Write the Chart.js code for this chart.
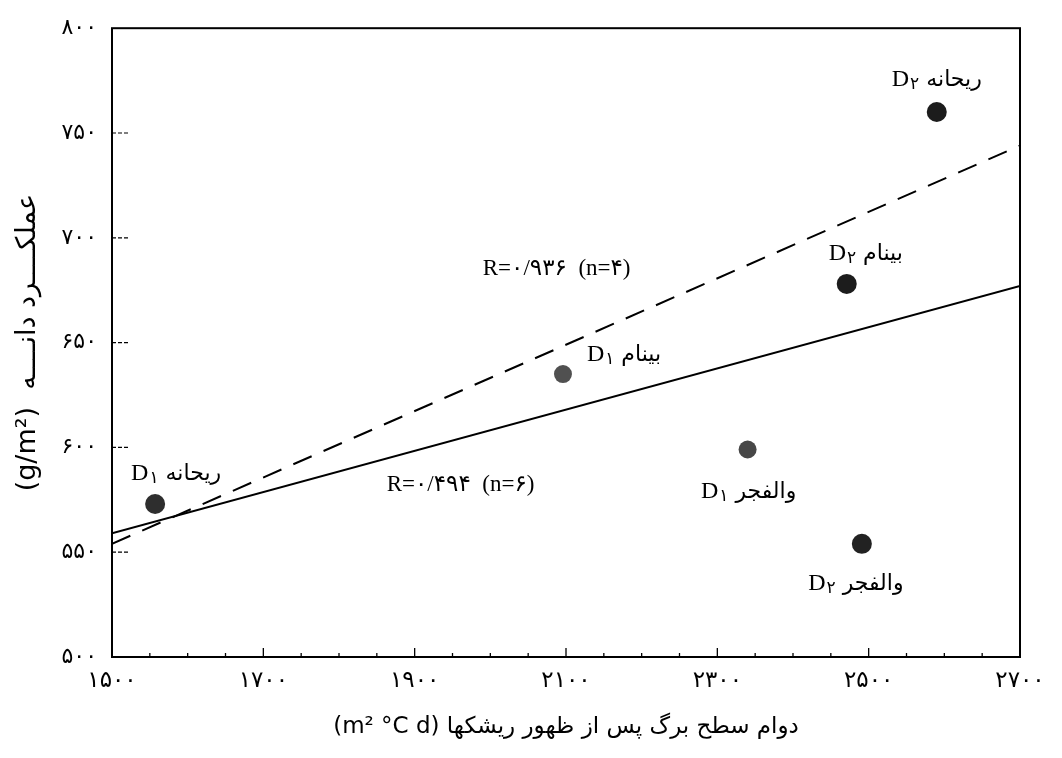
<!DOCTYPE html>
<html lang="fa">
<head>
<meta charset="utf-8">
<title>عملکرد دانه و دوام سطح برگ</title>
<script src="https://cdn.jsdelivr.net/npm/chart.js@4.4.1/dist/chart.umd.min.js"></script>
<style>
  html, body { margin: 0; padding: 0; background: #fff; }
  #wrap { width: 1062px; height: 758px; }
</style>
</head>
<body>
<div id="wrap"><canvas id="yieldChart"></canvas></div>
<script>
// cultivar and sowing date of each point
var cultivars = ['ریحانه', 'بینام', 'والفجر', 'ریحانه', 'بینام', 'والفجر'];
var sowingDates = ['۱', '۱', '۱', '۲', '۲', '۲'];
// leaf area duration after heading (m2 °C d)
var ladValues = [1557, 2096, 2340, 2590, 2471, 2491];
// grain yield (g/m2)
var yieldValues = [573, 635, 599, 760, 678, 554];

// regression lines, read at both ends of the x axis
var lineAllX = [1500, 2700];
var lineAllY = [559, 677];
var lineFourX = [1500, 2700];
var lineFourY = [554, 744];
var lineTexts = ['R=۰/۴۹۴  (n=۶)', 'R=۰/۹۳۶  (n=۴)'];

// axis ticks
var xTicks = [1500, 1700, 1900, 2100, 2300, 2500, 2700];
var yTicks = [500, 550, 600, 650, 700, 750, 800];

// western digits -> persian digits
function fa(n) {
    return String(n).replace(/[0-9]/g, function (d) { return '۰۱۲۳۴۵۶۷۸۹'[d]; });
}

function pairs(xs, ys) {
    return xs.map(function (x, i) { return { x: x, y: ys[i] }; });
}

// "D۱ ریحانه" with the digit set a little lower
function drawPointLabel(ctx, cx, cy, digit, name) {
    var fD = '24px "Liberation Serif", "DejaVu Serif"';
    var fS = '17px "DejaVu Sans"';
    var fN = '22px "DejaVu Sans"';
    ctx.font = fD; var wD = ctx.measureText('D').width;
    ctx.font = fS; var wS = ctx.measureText(digit).width;
    ctx.font = fN; var wN = ctx.measureText(name).width;
    var gap = 8;
    var x = cx - (wD + wS + gap + wN) / 2;
    var base = cy + 8;
    ctx.textAlign = 'left';
    ctx.textBaseline = 'alphabetic';
    ctx.font = fD; ctx.fillText('D', x, base);
    ctx.font = fS; ctx.fillText(digit, x + wD + 1, base + 3);
    ctx.font = fN; ctx.fillText(name, x + wD + wS + gap, base);
}

var extras = {
    id: 'extras',
    afterDraw: function (chart) {
        var ctx = chart.ctx;
        var a = chart.chartArea;
        var xs = chart.scales.x;
        var ys = chart.scales.y;
        ctx.save();
        ctx.fillStyle = '#000';
        ctx.strokeStyle = '#000';

        // frame
        ctx.lineWidth = 2;
        ctx.strokeRect(a.left, a.top, a.right - a.left, a.bottom - a.top);

        // small tick marks inside, along the bottom
        ctx.lineWidth = 1.3;
        for (var v = xTicks[0]; v <= xTicks[xTicks.length - 1]; v += 50) {
            var px = xs.getPixelForValue(v);
            var len = (v - xTicks[0]) % 200 === 0 ? 9 : 4;
            ctx.beginPath();
            ctx.moveTo(px, a.bottom);
            ctx.lineTo(px, a.bottom - len);
            ctx.stroke();
        }
        // dotted tick marks inside, along the left side
        ctx.lineWidth = 1.2;
        ctx.setLineDash([4, 2]);
        yTicks.slice(1, -1).forEach(function (t) {
            var py = ys.getPixelForValue(t);
            ctx.beginPath();
            ctx.moveTo(a.left, py);
            ctx.lineTo(a.left + 18, py);
            ctx.stroke();
        });
        ctx.setLineDash([]);

        // R values of the two lines
        var rAt = [[1863, 582], [1990, 685]];
        ctx.font = '23px "Liberation Serif", "DejaVu Sans"';
        ctx.textAlign = 'left';
        ctx.textBaseline = 'middle';
        lineTexts.forEach(function (t, i) {
            ctx.fillText(t, xs.getPixelForValue(rAt[i][0]), ys.getPixelForValue(rAt[i][1]));
        });

        // point names, offset from each point (px)
        var offs = [[21, -32], [61, -21], [1, 41], [0, -34], [19, -32], [-6, 38]];
        ladValues.forEach(function (lad, i) {
            var px = xs.getPixelForValue(lad) + offs[i][0];
            var py = ys.getPixelForValue(yieldValues[i]) + offs[i][1];
            drawPointLabel(ctx, px, py, sowingDates[i], cultivars[i]);
        });
        ctx.restore();
    }
};

var ctx = document.getElementById('yieldChart');
var yieldChart = new Chart(ctx, {
    type: 'scatter',
    data: {
        datasets: [
            {
                // the six cultivar x date points
                data: pairs(ladValues, yieldValues),
                pointRadius: [10, 9, 9, 10, 10, 10],
                pointBackgroundColor: ['#2e2e2e', '#505050', '#474747', '#1c1c1c', '#1c1c1c', '#222'],
                pointBorderWidth: 0,
                order: 0
            },
            {
                // all six points
                data: pairs(lineAllX, lineAllY),
                showLine: true,
                borderColor: '#000',
                borderWidth: 2,
                pointRadius: 0,
                order: 1
            },
            {
                // four points
                data: pairs(lineFourX, lineFourY),
                showLine: true,
                borderColor: '#000',
                borderWidth: 2,
                borderDash: [20, 13],
                pointRadius: 0,
                order: 1
            }
        ]
    },
    options: {
        responsive: true,
        maintainAspectRatio: false,
        animation: false,
        layout: { padding: { top: 20, right: 42, left: 0, bottom: 0 } },
        scales: {
            x: {
                type: 'linear',
                min: 1500,
                max: 2700,
                afterBuildTicks: function (s) { s.ticks = xTicks.map(function (v) { return { value: v }; }); },
                afterFit: function (s) { s.height = 101; },
                grid: { display: false, drawTicks: false },
                border: { display: false },
                ticks: {
                    padding: 10,
                    color: '#000',
                    font: { family: '"DejaVu Sans"', size: 23 },
                    callback: function (v) { return fa(v); }
                },
                title: {
                    display: true,
                    text: '(m² °C d) دوام سطح برگ پس از ظهور ریشکها',
                    color: '#000',
                    font: { family: '"DejaVu Sans"', size: 23 },
                    padding: { top: 0, bottom: 17 }
                }
            },
            y: {
                min: 500,
                max: 800,
                afterBuildTicks: function (s) { s.ticks = yTicks.map(function (v) { return { value: v }; }); },
                afterFit: function (s) { s.width = 112; },
                grid: { display: false, drawTicks: false },
                border: { display: false },
                ticks: {
                    padding: 15,
                    color: '#000',
                    font: { family: '"DejaVu Sans"', size: 22 },
                    callback: function (v) { return fa(v); }
                },
                title: {
                    display: true,
                    // stretched with kashida as in the print
                    text: '(g/m²)  عملکــــرد دانــــه',
                    color: '#000',
                    font: { family: '"DejaVu Sans"', size: 27 },
                    padding: { top: 12, bottom: 0 }
                }
            }
        },
        plugins: {
            legend: { display: false },
            tooltip: { enabled: false }
        }
    },
    plugins: [extras]
});
</script>
</body>
</html>
